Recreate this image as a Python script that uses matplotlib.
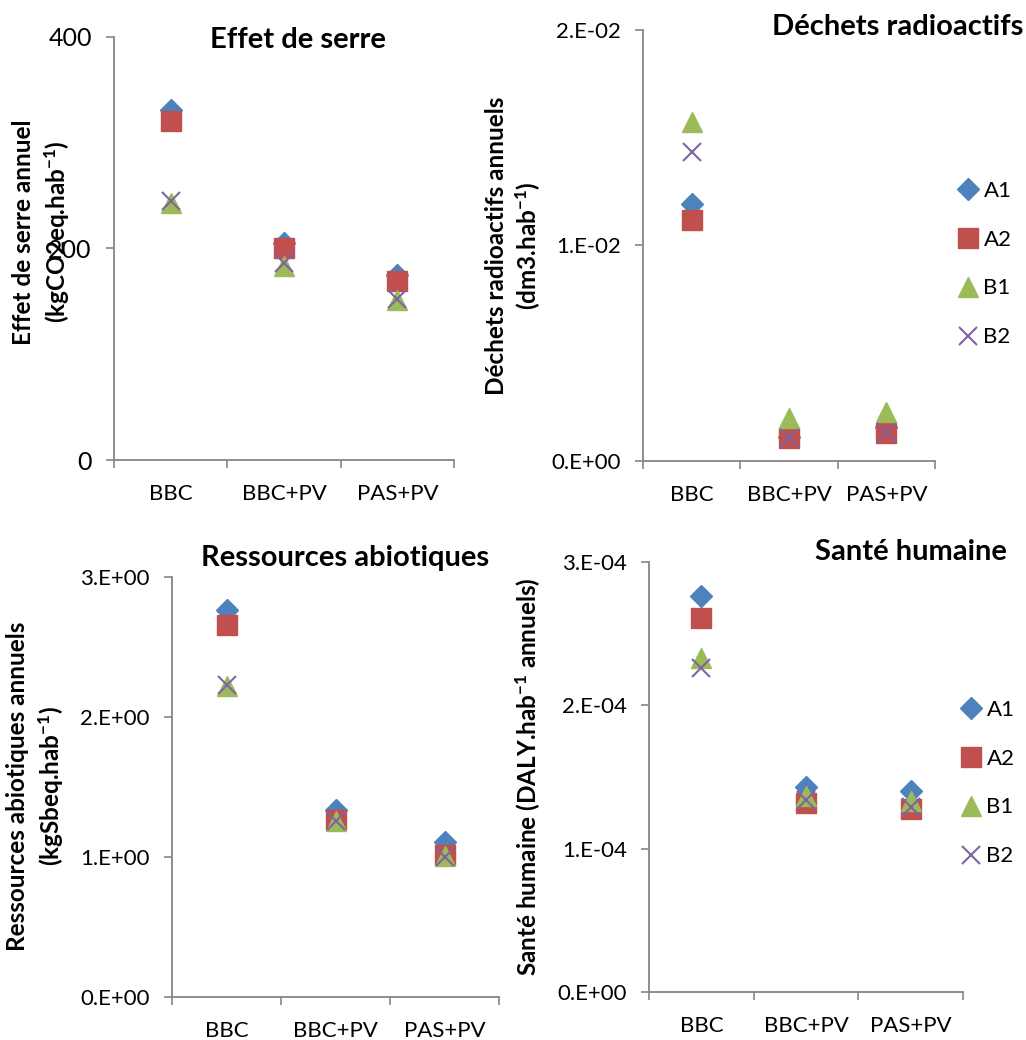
import matplotlib
matplotlib.use("Agg")
import matplotlib.pyplot as plt

plt.rcParams['font.family'] = ['Lato', 'DejaVu Sans']
plt.rcParams['mathtext.default'] = 'regular'

categories = ["BBC", "BBC+PV", "PAS+PV"]
series = ["A1", "A2", "B1", "B2"]

serre_A1 = [331, 205, 175]
serre_A2 = [321, 200, 169]
serre_B1 = [243, 183, 151]
serre_B2 = [245, 186, 152]

dechets_A1 = [0.01193, 0.00112, 0.00160]
dechets_A2 = [0.01118, 0.00107, 0.00130]
dechets_B1 = [0.01573, 0.00200, 0.00227]
dechets_B2 = [0.01434, 0.00107, 0.00135]

ressources_A1 = [2.764, 1.336, 1.107]
ressources_A2 = [2.657, 1.264, 1.014]
ressources_B1 = [2.220, 1.255, 1.010]
ressources_B2 = [2.230, 1.260, 1.000]

sante_A1 = [2.763e-4, 1.43e-4, 1.40e-4]
sante_A2 = [2.61e-4, 1.32e-4, 1.28e-4]
sante_B1 = [2.33e-4, 1.37e-4, 1.33e-4]
sante_B2 = [2.26e-4, 1.34e-4, 1.29e-4]

serre_ticks = [0, 200, 400]
serre_ticklabels = ["0", "200", "400"]
dechets_ticks = [0, 0.01, 0.02]
dechets_ticklabels = ["0.E+00", "1.E-02", "2.E-02"]
ressources_ticks = [0, 1, 2, 3]
ressources_ticklabels = ["0.E+00", "1.E+00", "2.E+00", "3.E+00"]
sante_ticks = [0, 1e-4, 2e-4, 3e-4]
sante_ticklabels = ["0.E+00", "1.E-04", "2.E-04", "3.E-04"]

colors = {"A1": "#4F81BD", "A2": "#C0504D", "B1": "#9BBB59", "B2": "#8064A2"}
styles = {
    "A1": dict(marker="D", markersize=11, linestyle="none", color=colors["A1"]),
    "A2": dict(marker="s", markersize=14, linestyle="none", color=colors["A2"]),
    "B1": dict(marker="^", markersize=15, linestyle="none", color=colors["B1"]),
    "B2": dict(marker="x", markersize=13, markeredgewidth=1.5, linestyle="none", color=colors["B2"]),
}

W, H = 1026, 1040
fig = plt.figure(figsize=(W / 100, H / 100), dpi=100)

def add_ax(left, top, right, bottom):
    return fig.add_axes([left / W, 1 - bottom / H, (right - left) / W, (bottom - top) / H])

gray = "#868686"
TICK_FS = 16
TITLE_FS = 21
YLAB_FS = 17.5

def setup(ax, data, yticks, yticklabels, title, title_xy, title_ha, ylabel_lines, ylabel_xs, ylabel_y,
          legend_xy=None, ytick_fs=TICK_FS):
    xs = [0.5, 1.5, 2.5]
    handles = []
    for s, vals in zip(series, data):
        h, = ax.plot(xs, vals, label=s, **styles[s])
        handles.append(h)
    ax.set_xlim(0, 3)
    ax.set_ylim(yticks[0], yticks[-1])
    ax.set_yticks(yticks)
    ax.set_yticklabels(yticklabels, fontsize=ytick_fs)
    ax.set_xticks([0, 1, 2, 3])
    ax.set_xticklabels([])
    ax.set_xticks(xs, minor=True)
    ax.set_xticklabels(categories, minor=True, fontsize=TICK_FS)
    ax.tick_params(axis="x", which="minor", length=0, pad=17)
    ax.tick_params(axis="x", which="major", length=6, color=gray, width=1.2, direction="out")
    ax.tick_params(axis="y", length=6, color=gray, width=1.2, direction="out", pad=10)
    for sp in ["top", "right"]:
        ax.spines[sp].set_visible(False)
    for sp in ["left", "bottom"]:
        ax.spines[sp].set_color(gray)
        ax.spines[sp].set_linewidth(1.3)
    fig.text(title_xy[0] / W, 1 - title_xy[1] / H, title, ha=title_ha, va="baseline",
             fontsize=TITLE_FS, fontweight="bold")
    for line, x in zip(ylabel_lines, ylabel_xs):
        fig.text(x / W, 1 - ylabel_y / H, line, rotation=90, ha="center", va="center",
                 fontsize=YLAB_FS, fontweight="bold")
    if legend_xy is not None:
        fig.legend(handles=handles, loc="center left",
                   bbox_to_anchor=(legend_xy[0] / W, 1 - legend_xy[1] / H),
                   frameon=False, fontsize=TICK_FS, handlelength=0.8, handletextpad=0.3,
                   labelspacing=1.3, borderpad=0, borderaxespad=0)

ax1 = add_ax(114, 37, 454, 460)
setup(ax1, [serre_A1, serre_A2, serre_B1, serre_B2], serre_ticks, serre_ticklabels,
      "Effet de serre", (298, 48), "center",
      ["Effet de serre annuel", "(kgCO2eq.hab$^{-1}$)"], [24, 57], 232, ytick_fs=18)

ax2 = add_ax(643, 30, 935, 461)
setup(ax2, [dechets_A1, dechets_A2, dechets_B1, dechets_B2], dechets_ticks, dechets_ticklabels,
      "Déchets radioactifs", (1023, 35), "right",
      ["Déchets radioactifs annuels", "(dm3.hab$^{-1}$)"], [497, 528], 246,
      legend_xy=(959, 264))

ax3 = add_ax(172, 577, 499, 997)
setup(ax3, [ressources_A1, ressources_A2, ressources_B1, ressources_B2], ressources_ticks, ressources_ticklabels,
      "Ressources abiotiques", (345, 566), "center",
      ["Ressources abiotiques annuels", "(kgSbeq.hab$^{-1}$)"], [18, 51], 786)

ax4 = add_ax(649, 562, 963, 992)
setup(ax4, [sante_A1, sante_A2, sante_B1, sante_B2], sante_ticks, sante_ticklabels,
      "Santé humaine", (1007, 560), "right",
      ["Santé humaine (DALY.hab$^{-1}$ annuels)"], [528], 777,
      legend_xy=(962, 783))

fig.savefig("out.png", dpi=100)
